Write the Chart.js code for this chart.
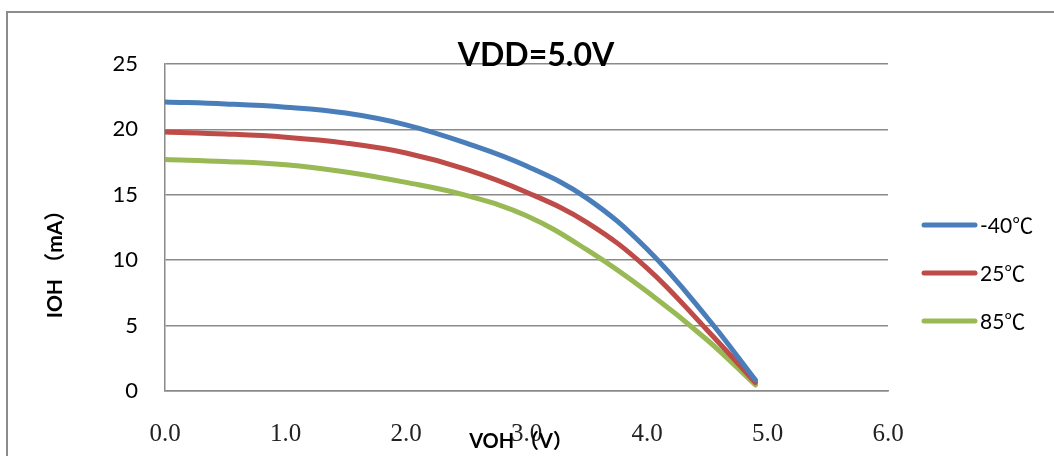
<!DOCTYPE html>
<html>
<head>
<meta charset="utf-8">
<script src="https://cdn.jsdelivr.net/npm/chart.js@4.4.1/dist/chart.umd.min.js"></script>
<style>
  body { margin: 0; background: #fff; }
  canvas { display: block; }
</style>
</head>
<body>
<canvas id="ivChart" width="1054" height="456"></canvas>
<script>
// VOH (V) sample points and IOH (mA) per temperature
const voh = [0, 0.5, 1.0, 1.5, 2.0, 2.5, 3.0, 3.5, 4.0, 4.5, 4.9];
const iohMinus40 = [22.1, 21.95, 21.7, 21.25, 20.35, 18.95, 17.2, 14.75, 10.85, 5.6, 0.84];
const ioh25 = [19.8, 19.65, 19.4, 18.95, 18.2, 16.95, 15.2, 12.9, 9.4, 4.65, 0.65];
const ioh85 = [17.7, 17.55, 17.3, 16.75, 15.95, 14.95, 13.4, 10.8, 7.6, 3.9, 0.46];
const seriesNames = ["-40℃", "25℃", "85℃"];
const seriesColors = ["#4a7ebb", "#be4b48", "#98b954"];

const chartTitle = "VDD=5.0V";
const xTitle = "VOH （V）";
const yTitle = "IOH （mA）";

const SANS = "Lato, 'Noto Sans CJK SC', sans-serif";

function toPoints(ys) {
  return voh.map((v, i) => ({ x: v, y: ys[i] }));
}

// frame, titles and legend drawn like the Excel original
const decorations = {
  id: "decorations",
  beforeDraw(chart) {
    const ctx = chart.ctx;
    ctx.save();
    ctx.strokeStyle = "#8c8c8c";
    ctx.lineWidth = 2;
    ctx.beginPath();
    ctx.moveTo(7, 460);
    ctx.lineTo(7, 12);
    ctx.lineTo(1060, 12);
    ctx.stroke();
    ctx.restore();
  },
  afterDraw(chart) {
    const ctx = chart.ctx;
    ctx.save();
    ctx.fillStyle = "#000";
    ctx.textAlign = "center";
    ctx.textBaseline = "alphabetic";

    ctx.font = "bold 32px " + SANS;
    ctx.fillText(chartTitle, 536, 66);

    ctx.font = "bold 20px " + SANS;
    ctx.fillText(xTitle, 521, 448);

    ctx.save();
    ctx.translate(62, 259);
    ctx.rotate(-Math.PI / 2);
    ctx.font = "bold 21px " + SANS;
    ctx.fillText(yTitle, 0, 0);
    ctx.restore();

    // legend
    ctx.textAlign = "left";
    ctx.textBaseline = "middle";
    ctx.font = "21px " + SANS;
    chart.data.datasets.forEach((ds, i) => {
      const y = 225 + i * 48;
      ctx.strokeStyle = ds.borderColor;
      ctx.lineWidth = 5;
      ctx.lineCap = "round";
      ctx.beginPath();
      ctx.moveTo(924, y);
      ctx.lineTo(975, y);
      ctx.stroke();
      ctx.fillText(ds.label, 980, y + 1);
    });
    ctx.restore();
  }
};

new Chart(document.getElementById("ivChart"), {
  type: "scatter",
  data: {
    datasets: [iohMinus40, ioh25, ioh85].map((ys, i) => ({
      label: seriesNames[i],
      data: toPoints(ys),
      showLine: true,
      borderColor: seriesColors[i],
      backgroundColor: seriesColors[i],
      borderWidth: 5,
      borderCapStyle: "round",
      pointRadius: 0,
      tension: 0.4
    }))
  },
  options: {
    responsive: false,
    devicePixelRatio: 1,
    animation: false,
    layout: { padding: { left: 0, top: 64, right: 166, bottom: 0 } },
    plugins: {
      legend: { display: false },
      title: { display: false },
      tooltip: { enabled: false }
    },
    scales: {
      x: {
        type: "linear",
        min: 0,
        max: 6,
        ticks: {
          stepSize: 1,
          padding: 28,
          color: "#222",
          font: { family: "'Liberation Serif', serif", size: 25 },
          callback: (v) => v.toFixed(1)
        },
        grid: { display: false, drawTicks: false },
        border: { display: true, color: "#8a8a8a", width: 1.5 },
        afterFit(scale) { scale.height = 65; }
      },
      y: {
        min: 0,
        max: 25,
        ticks: {
          stepSize: 5,
          padding: 27,
          color: "#000",
          font: { family: SANS, size: 22 }
        },
        grid: { color: "#8a8a8a", lineWidth: 1.5, drawTicks: false },
        border: { display: true, color: "#8a8a8a", width: 1.5 },
        afterFit(scale) { scale.width = 165; }
      }
    }
  },
  plugins: [decorations]
});
</script>
</body>
</html>
